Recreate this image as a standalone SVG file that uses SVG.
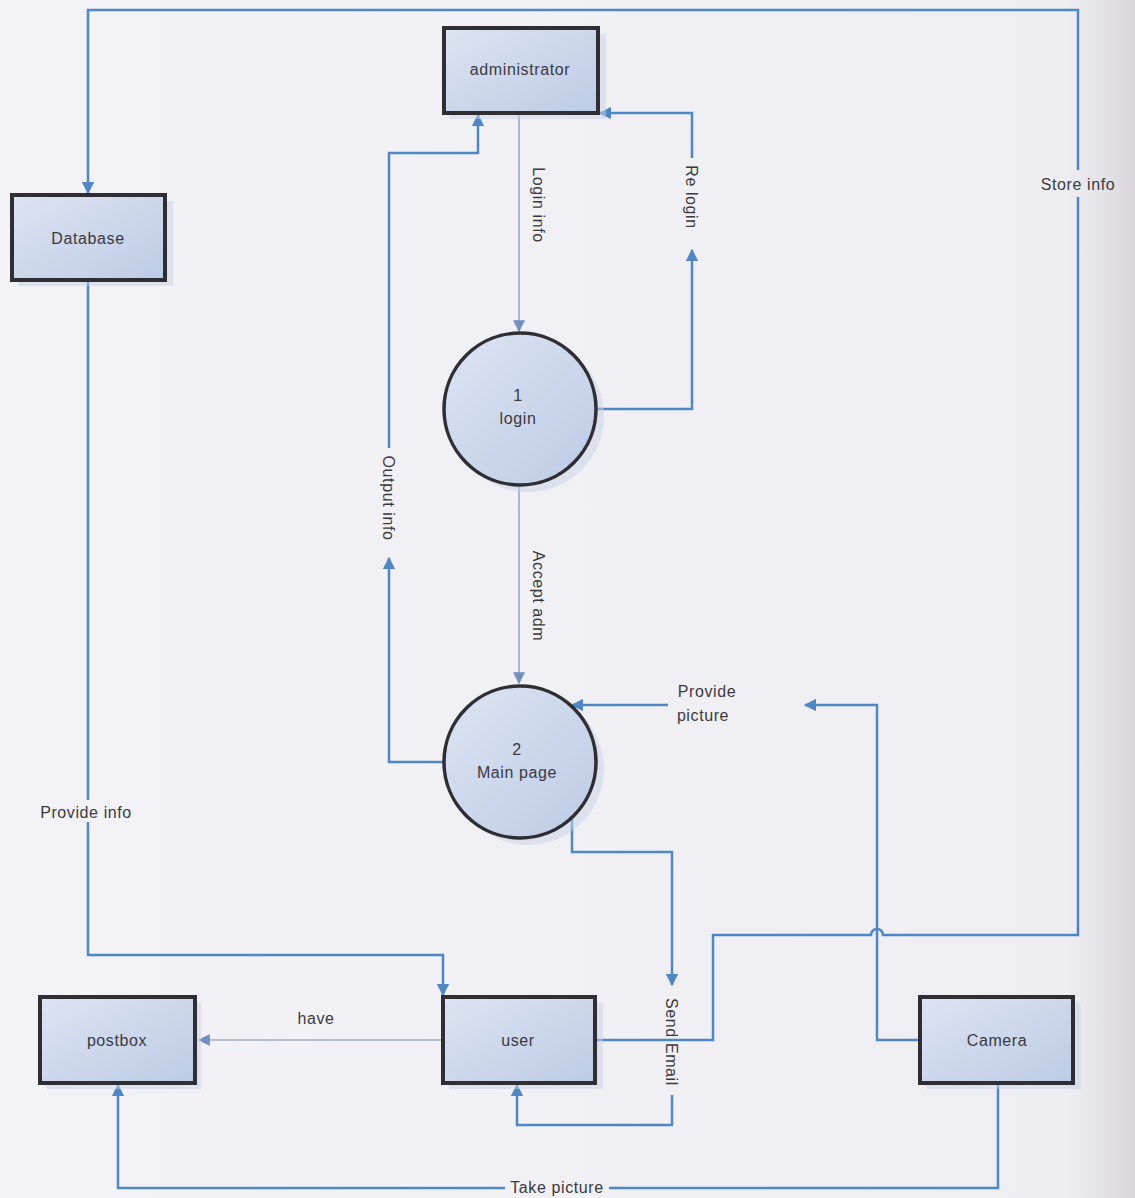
<svg xmlns="http://www.w3.org/2000/svg" width="1135" height="1198" viewBox="0 0 1135 1198">
<defs>
<linearGradient id="fillg" x1="0" y1="0" x2="1" y2="1">
<stop offset="0" stop-color="#dde4f2"/>
<stop offset="1" stop-color="#bccbe6"/>
</linearGradient>
<linearGradient id="bg" x1="0" y1="0" x2="1" y2="0">
<stop offset="0" stop-color="#f3f2f6"/>
<stop offset="0.94" stop-color="#eeeef2"/>
<stop offset="1" stop-color="#d9d7dc"/>
</linearGradient>
<marker id="arr" viewBox="0 0 10 10" refX="9" refY="5" markerWidth="5" markerHeight="5" orient="auto" markerUnits="strokeWidth">
<path d="M0,0 L10,5 L0,10 z" fill="#4f86c6"/>
</marker>
<marker id="arrt" viewBox="0 0 10 10" refX="9" refY="5" markerWidth="10" markerHeight="10" orient="auto" markerUnits="strokeWidth">
<path d="M0,0 L10,5 L0,10 z" fill="#6f8fbf"/>
</marker>
</defs>
<style>
.box{fill:url(#fillg);stroke:#2e2e33;stroke-width:4}
.circ{fill:url(#fillg);stroke:#2e2e33;stroke-width:3.5}
.sh{fill:#c6d2e6;opacity:0.5}
.lbl{font-family:"Liberation Sans",Arial,sans-serif;font-size:16px;letter-spacing:0.6px;fill:#3a3a3e;text-anchor:middle}
.c{fill:none;stroke:#4f86c6;stroke-width:2.5;stroke-linejoin:miter}
.t{fill:none;stroke:#7f8fa6;stroke-width:1.2}
</style>
<rect width="1135" height="1198" fill="url(#bg)"/>

<g id="connectors">
<!-- Store info: user -> Database -->
<path class="c" d="M595,1040 H713 V935 H871 A6,6 0 0 1 883,935 H1078 V197"/>
<path class="c" d="M1078,170 V10 H88 V193" marker-end="url(#arr)"/>
<text class="lbl" x="1078" y="190">Store info</text>
<!-- Provide info: Database -> user -->
<path class="c" d="M88,282 V800"/>
<path class="c" d="M88,822 V955 H443 V995" marker-end="url(#arr)"/>
<text class="lbl" x="86" y="818">Provide info</text>
<!-- Login info -->
<path class="t" d="M519,115 V331" marker-end="url(#arrt)"/>
<text class="lbl" transform="translate(533,205) rotate(90)">Login info</text>
<!-- Re login -->
<path class="c" d="M598,409 H692 V250" marker-end="url(#arr)"/>
<path class="c" d="M692,158 V113 H600" marker-end="url(#arr)"/>
<text class="lbl" transform="translate(686,197) rotate(90)">Re login</text>
<!-- Accept adm -->
<path class="t" d="M519,485 V683" marker-end="url(#arrt)"/>
<text class="lbl" transform="translate(533,596) rotate(90)">Accept adm</text>
<!-- Output info -->
<path class="c" d="M443,762 H389 V558" marker-end="url(#arr)"/>
<path class="c" d="M389,448 V153 H478 V115" marker-end="url(#arr)"/>
<text class="lbl" transform="translate(383,498) rotate(90)">Output info</text>
<!-- Provide picture: Camera -> Main page -->
<path class="c" d="M920,1040 H877 V705 H805" marker-end="url(#arr)"/>
<path class="c" d="M668,705 H572" marker-end="url(#arr)"/>
<text class="lbl" x="707" y="697">Provide</text>
<text class="lbl" x="703" y="721">picture</text>
<!-- Send Email -->
<path class="c" d="M572,815 V852 H672 V985" marker-end="url(#arr)"/>
<path class="c" d="M672,1095 V1125 H517 V1085" marker-end="url(#arr)"/>
<text class="lbl" transform="translate(666,1042) rotate(90)">Send Email</text>
<!-- have -->
<path class="t" d="M443,1040 H199" marker-end="url(#arrt)"/>
<text class="lbl" x="316" y="1024">have</text>
<!-- Take picture -->
<path class="c" d="M998,1085 V1188 H609"/>
<path class="c" d="M505,1188 H118 V1085" marker-end="url(#arr)"/>
<text class="lbl" x="557" y="1193">Take picture</text>
</g>

<g id="administrator">
<rect class="sh" x="450" y="34" width="156" height="85"/>
<rect class="box" x="444" y="28" width="154" height="85"/>
<text class="lbl" x="520" y="75">administrator</text>
</g>
<g id="database">
<rect class="sh" x="18" y="201" width="155" height="85"/>
<rect class="box" x="12" y="195" width="153" height="85"/>
<text class="lbl" x="88" y="244">Database</text>
</g>
<g id="login">
<circle class="sh" cx="528" cy="416" r="76"/>
<circle class="circ" cx="520" cy="409" r="76"/>
<text class="lbl" x="518" y="401">1</text>
<text class="lbl" x="518" y="424">login</text>
</g>
<g id="mainpage">
<circle class="sh" cx="528" cy="769" r="76"/>
<circle class="circ" cx="520" cy="762" r="76"/>
<text class="lbl" x="517" y="755">2</text>
<text class="lbl" x="517" y="778">Main page</text>
</g>
<g id="postbox">
<rect class="sh" x="46" y="1003" width="155" height="86"/>
<rect class="box" x="40" y="997" width="155" height="86"/>
<text class="lbl" x="117" y="1046">postbox</text>
</g>
<g id="user">
<rect class="sh" x="449" y="1003" width="154" height="86"/>
<rect class="box" x="443" y="997" width="152" height="86"/>
<text class="lbl" x="518" y="1046">user</text>
</g>
<g id="camera">
<rect class="sh" x="926" y="1003" width="155" height="86"/>
<rect class="box" x="920" y="997" width="153" height="86"/>
<text class="lbl" x="997" y="1046">Camera</text>
</g>
</svg>
